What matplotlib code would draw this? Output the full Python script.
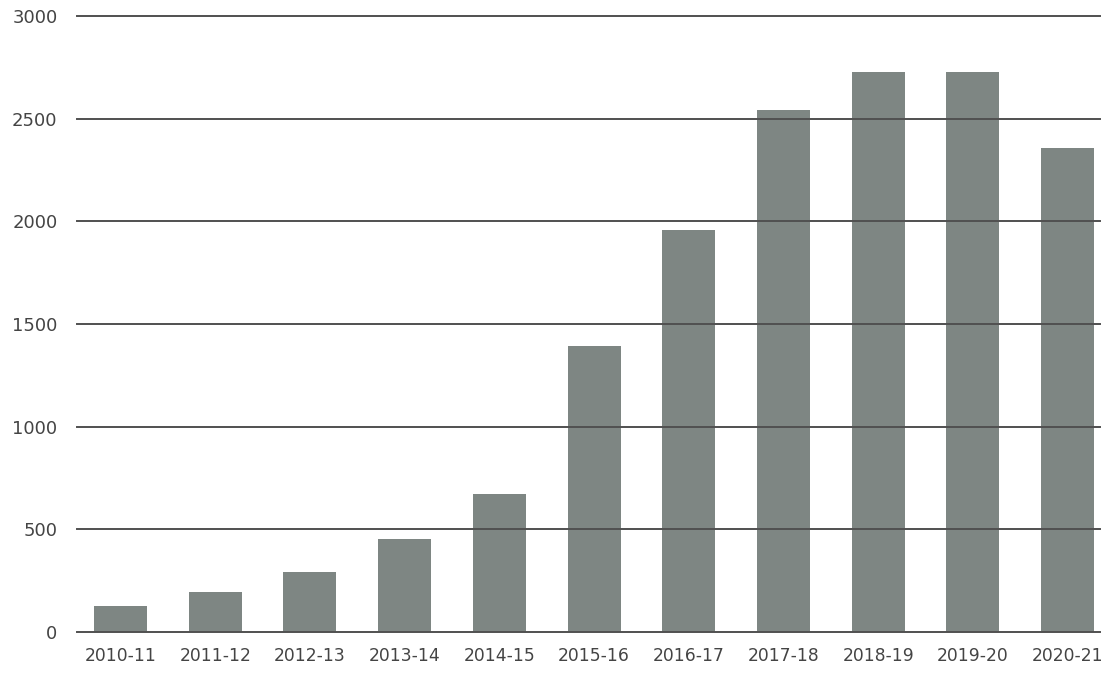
import numpy as np
import matplotlib.pyplot as plt

# data
years = ['2010-11', '2011-12', '2012-13', '2013-14', '2014-15', '2015-16',
         '2016-17', '2017-18', '2018-19', '2019-20', '2020-21']
values = [125, 193, 294, 453, 672, 1394, 1959, 2544, 2726, 2726, 2359]

plt.rcParams['font.family'] = ['DejaVu Sans']

fig = plt.figure(figsize=(11.07, 6.78), dpi=100)
ax = fig.add_axes([0.0695, 0.068, 0.924, 0.908])

X = np.arange(len(years))
ax.bar(X, values, width=0.56, color='#7e8683', zorder=1)

ax.set_ylim(0, 3000)
ax.set_xlim(-0.46, 10.34)
ax.set_yticks(np.arange(0, 3001, 500))
ax.set_xticks(X)
ax.set_xticklabels(years)
ax.grid(axis='y', color='#505050', linewidth=1.4, zorder=2)
for gl in ax.get_ygridlines():
    gl.set_clip_on(False)
ax.set_axisbelow(False)
for s in ax.spines.values():
    s.set_visible(False)
ax.tick_params(length=0, colors='#444444')
ax.tick_params(axis='y', pad=14, labelsize=13)
ax.tick_params(axis='x', pad=11, labelsize=12.3)

fig.savefig('out.png', dpi=100)
